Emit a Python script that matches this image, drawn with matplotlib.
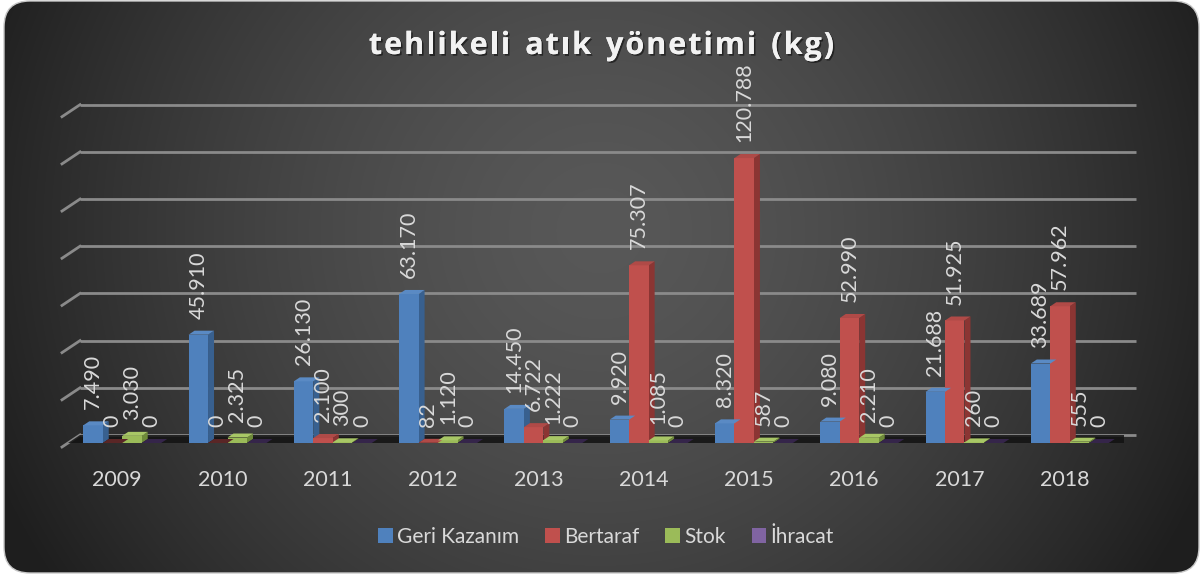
import numpy as np
import matplotlib
matplotlib.use("Agg")
import matplotlib.pyplot as plt
from matplotlib.patches import Polygon, FancyBboxPatch, Patch
import matplotlib.patheffects as pe

# ---------------- data ----------------
years = ["2009", "2010", "2011", "2012", "2013", "2014", "2015", "2016", "2017", "2018"]
series_names = ["Geri Kazanım", "Bertaraf", "Stok", "İhracat"]
geri_kazanim = [7490, 45910, 26130, 63170, 14450, 9920, 8320, 9080, 21688, 33689]
bertaraf = [0, 0, 2100, 82, 6722, 75307, 120788, 52990, 51925, 57962]
stok = [3030, 2325, 300, 1120, 1222, 1085, 587, 2210, 260, 555]
ihracat = [0, 0, 0, 0, 0, 0, 0, 0, 0, 0]
title = "tehlikeli atık yönetimi (kg)"

series = [geri_kazanim, bertaraf, stok, ihracat]
front_cols = ["#4F81BD", "#C0504D", "#9BBB59", "#8064A2"]
side_cols = ["#38608F", "#8B3533", "#6E8A3A", "#5A4577"]
top_cols = ["#5A8AC4", "#B04A47", "#A8C766", "#3B2C4E"]
zero_top_cols = ["#2E4A70", "#5A2626", "#6E8A3A", "#35254A"]

W, H = 1203, 576
fig = plt.figure(figsize=(W / 100, H / 100), dpi=100, facecolor="white")

# ---------------- background ----------------
bg = fig.add_axes([0, 0, 1, 1])
bg.set_xlim(0, W)
bg.set_ylim(H, 0)
bg.axis("off")
yy, xx = np.mgrid[0:H, 0:W]
d = np.sqrt(((xx - 600) / 660.0) ** 2 + ((yy - 230) / 640.0) ** 2)
t = np.clip(d, 0, 1) ** 1.5
c0 = np.array([0x58, 0x58, 0x58]) / 255.0
c1 = np.array([0x1e, 0x1e, 0x1e]) / 255.0
img = c0[None, None, :] * (1 - t[..., None]) + c1[None, None, :] * t[..., None]
panel = FancyBboxPatch((4, 1), W - 8, H - 4, boxstyle="round,pad=0,rounding_size=26",
                       facecolor="none", edgecolor="#c8c8c8", linewidth=1.0)
bg.add_patch(panel)
im = bg.imshow(img, extent=(0, W, H, 0), zorder=0)
im.set_clip_path(panel)

# title with a little letter spacing (characters laid out one by one)
title_fp = dict(fontsize=22, fontweight="bold", family=["Open Sans", "DejaVu Sans"])
fig.canvas.draw()
renderer = fig.canvas.get_renderer()
widths = []
for ch in title:
    tt = bg.text(0, 0, ch if ch != " " else "n", **title_fp)
    wpx = tt.get_window_extent(renderer).width
    if ch == " ":
        wpx *= 0.55
    widths.append(wpx)
    tt.remove()
spacing = 2.0
total = sum(widths) + spacing * (len(title) - 1)
xc = W / 2 - total / 2
for ch, wpx in zip(title, widths):
    if ch != " ":
        bg.text(xc, 46, ch, ha="left", va="center", color="#f2f2f2", **title_fp,
                path_effects=[pe.withSimplePatchShadow(offset=(1.2, -1.2), shadow_rgbFace="black", alpha=0.5),
                              pe.Normal()])
    xc += wpx + spacing

# ---------------- main axes ----------------
ax_l, ax_r = 68, 1124
ax_b, ax_t = 443, 112.7
ax = fig.add_axes([ax_l / W, (H - ax_b) / H, (ax_r - ax_l) / W, (ax_b - ax_t) / H])
ax.set_xlim(-0.515, 9.515)
ax.set_ylim(0, 140000)
ax.axis("off")
ax.patch.set_alpha(0)

x0, x1 = ax.get_xlim()
y0, y1 = ax.get_ylim()
ppx_x = (ax_r - ax_l) / (x1 - x0)
ppx_y = (ax_b - ax_t) / (y1 - y0)

def dx(px):
    return px / ppx_x

def dy(px):
    return px / ppx_y

# floor
floor = Polygon([(x0 - dx(6), -dy(4)), (x1 - dx(6), -dy(4)), (x1 + dx(12), dy(8)), (x0 + dx(12), dy(8))],
                closed=True, facecolor="#121212", edgecolor="none", alpha=0.85, zorder=1)
ax.add_patch(floor)

# gridlines on back wall + side wall slant
grid_col = "#8a8a8a"
for v in np.arange(0, 140001, 20000):
    ax.plot([x0 + dx(12), x1 + dx(12)], [v + dy(8), v + dy(8)], color=grid_col, lw=2.0,
            solid_capstyle="butt", zorder=0.5, clip_on=False)
    ax.plot([x0 - dx(6), x0 + dx(12)], [v - dy(4), v + dy(8)], color=grid_col, lw=2.0,
            zorder=0.5, clip_on=False)

bw = 0.185
depx, depy = 6, 4

def fmt(v):
    return f"{v:,}".replace(",", ".")

for k, vals in enumerate(series):
    xs = np.arange(len(years)) + (k - 1.5) * bw
    ax.bar(xs, vals, width=bw, color=front_cols[k], edgecolor="none", zorder=3 + k * 0.01,
           label=series_names[k])
    for xi, v in zip(xs, vals):
        xl, xr = xi - bw / 2, xi + bw / 2
        side = Polygon([(xr, 0), (xr + dx(depx), dy(depy)), (xr + dx(depx), v + dy(depy)), (xr, v)],
                       closed=True, facecolor=side_cols[k], edgecolor="none", zorder=2.9)
        top = Polygon([(xl, v), (xr, v), (xr + dx(depx), v + dy(depy)), (xl + dx(depx), v + dy(depy))],
                      closed=True, facecolor=(top_cols[k] if v > 0 else zero_top_cols[k]),
                      edgecolor="none", zorder=3.5)
        ax.add_patch(side)
        ax.add_patch(top)
        ax.annotate(fmt(v), (xi, v), xytext=(0, 11.5), textcoords="offset points",
                    rotation=90, ha="center", va="bottom", fontsize=15.5,
                    family=["Lato", "DejaVu Sans"], color="#d9d9d9", zorder=6,
                    annotation_clip=False)

for i, yr in enumerate(years):
    ax.annotate(yr, (i, 0), xytext=(-3.6, -26.6), textcoords="offset points",
                ha="center", va="center", fontsize=15.5, family=["Lato", "DejaVu Sans"],
                color="#d9d9d9", annotation_clip=False)

handles = [Patch(facecolor=c, edgecolor="none") for c in front_cols]
leg = fig.legend(handles, series_names, loc="center", bbox_to_anchor=(606 / W, (H - 537) / H),
                 ncol=4, frameon=False, handlelength=0.7, handleheight=0.7,
                 handletextpad=0.2, columnspacing=1.25,
                 prop={"family": ["Lato", "DejaVu Sans"], "size": 15})
for txt in leg.get_texts():
    txt.set_color("#d9d9d9")

fig.savefig("out.png", dpi=100, facecolor="white")
